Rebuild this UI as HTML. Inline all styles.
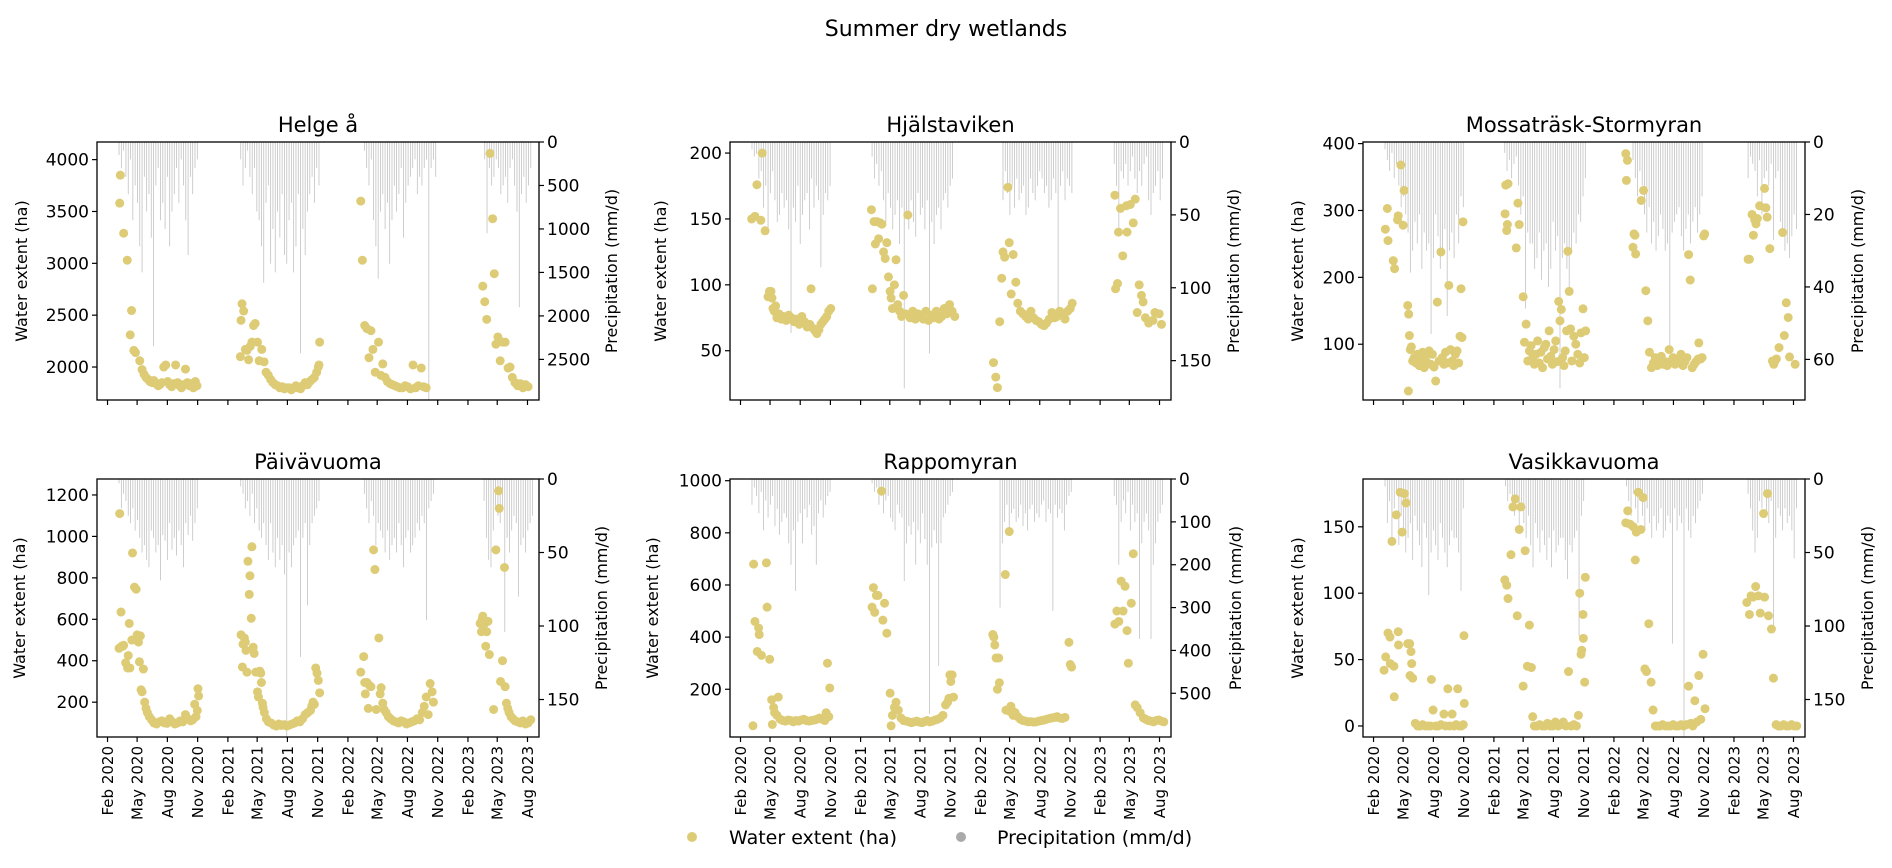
<!DOCTYPE html>
<html><head><meta charset="utf-8"><title>Summer dry wetlands</title>
<style>
html,body{margin:0;padding:0;background:#fff;}
svg{display:block;font-family:"DejaVu Sans","Liberation Sans",sans-serif;}
</style></head>
<body>
<svg id="chart" width="1892" height="868" viewBox="0 0 1892 868" xmlns="http://www.w3.org/2000/svg">
<text x="946" y="36" text-anchor="middle" font-size="22" fill="#000">Summer dry wetlands</text>
<g id="legend">
<g><circle cx="692" cy="837" r="5" fill="#ddcb76"/><text x="729" y="844" font-size="19" fill="#000">Water extent (ha)</text></g>
<g><circle cx="961" cy="837" r="5" fill="#aaaaaa"/><text x="997" y="844" font-size="19" fill="#000">Precipitation (mm/d)</text></g>
</g>
</svg>
<script>
// ---------- data ----------
const panelTitles = ["Helge å","Hjälstaviken","Mossaträsk-Stormyran","Päivävuoma","Rappomyran","Vasikkavuoma"];
const xTickDays = [31,121,213,305,397,486,578,670,762,851,943,1035,1127,1216,1308];
const xTickLabels = ["Feb 2020","May 2020","Aug 2020","Nov 2020","Feb 2021","May 2021","Aug 2021","Nov 2021","Feb 2022","May 2022","Aug 2022","Nov 2022","Feb 2023","May 2023","Aug 2023"];
const xDomain = [-1,1343];
const waterDomains = [[1682,4170],[12.6,208.4],[16.6,402.4],[32,1277],[16.9,1006.5],[-8.3,186]];
const precipDomains = [[0,2967],[0,177],[0,71.2],[0,175.5],[0,602],[0,175.5]];
const waterTicks = [[2000,2500,3000,3500,4000],[50,100,150,200],[100,200,300,400],[200,400,600,800,1000,1200],[200,400,600,800,1000],[0,50,100,150]];
const precipTicks = [[0,500,1000,1500,2000,2500],[0,50,100,150],[0,20,40,60],[0,50,100,150],[0,100,200,300,400,500],[0,50,100,150]];
const precipStepDays = 7;

// Helge å
const helgeWaterDays = [68,70,80,91,100,104,111,116,129,136,142,148,155,160,166,172,178,185,190,196,202,208,214,220,226,232,238,244,250,256,262,268,274,280,286,292,298,303,
435,437,440,445,450,455,460,465,470,475,480,487,492,500,507,513,520,527,534,541,548,555,562,569,576,583,590,597,604,611,618,625,632,639,646,653,660,667,672,674,676,
801,806,813,820,826,832,838,845,855,862,868,875,882,890,897,905,912,920,928,936,944,952,960,968,976,985,992,1000,
1172,1178,1184,1194,1202,1207,1212,1218,1225,1233,1240,1249,1255,1262,1270,1278,1286,1294,1302,1310];
const helgeWaterVals = [3580,3850,3290,3030,2310,2545,2160,2140,2060,1975,1930,1900,1880,1860,1850,1870,1840,1820,1830,1850,2000,2020,1860,1830,1810,1840,2020,1850,1820,1800,1830,1980,1850,1820,1840,1800,1860,1820,
2100,2450,2610,2540,2170,2160,2070,2200,2240,2400,2420,2240,2060,2170,2050,1950,1920,1880,1850,1830,1820,1800,1810,1790,1800,1800,1780,1800,1820,1800,1790,1820,1850,1830,1860,1880,1900,1950,2000,2020,2240,
3600,3030,2400,2370,2090,2350,2170,1950,2240,1920,2030,1900,1860,1840,1830,1820,1810,1800,1800,1820,1810,1790,2020,1800,1820,1990,1810,1800,
2780,2630,2460,4060,3430,2900,2220,2290,2060,2240,2240,1990,2000,1900,1850,1820,1840,1800,1830,1810];
const helgePrecipStarts = [66,436,812,1178];
const helgePrecipVals = [
[150,300,100,400,600,200,900,500,700,1200,1500,400,800,600,1100,2350,500,300,900,700,1000,400,1200,800,600,300,700,200,500,900,1300,400,600,300,200],
[200,500,300,100,400,600,300,800,900,1200,1620,700,500,1400,1000,1500,800,1100,600,1300,1400,900,700,1500,1200,600,2430,1000,1300,800,600,400,700,300,500],
[100,300,500,200,900,1200,1570,800,600,1000,700,1400,900,500,800,600,300,1100,700,500,400,300,200,600,400,500,300,200,2967,300,200,400],
[200,1050,300,500,400,200,300,600,500,400,700,300,200,500,800,1900,600,400,700,500,300]];

// Hjälstaviken
const hjalWaterDays = [65,75,81,93,97,106,115,119,124,127,130,134,138,142,148,155,162,170,178,186,194,202,210,218,226,234,242,246,252,258,264,270,276,282,288,294,300,306,
430,433,438,442,447,452,457,462,467,472,477,482,487,490,494,500,505,510,516,522,528,534,541,548,556,564,572,580,588,596,604,612,620,628,636,644,652,660,668,676,684,
802,809,814,821,827,831,836,846,850,856,862,870,876,884,892,900,908,916,924,932,940,948,956,964,972,980,988,996,1004,1012,1020,1028,1036,1042,
1172,1174,1180,1183,1189,1196,1207,1209,1219,1228,1234,1240,1246,1253,1258,1265,1275,1288,1294,1307,1314];
const hjalWaterVals = [150,152,176,149,200,141,91,95,95,90,82,80,84,75,78,74,76,73,77,75,72,74,70,76,72,68,70,97,67,65,63,66,70,72,74,76,80,82,
157,97,148,131,148,135,147,146,125,120,132,106,95,90,82,100,119,85,80,76,92,78,153,75,80,74,78,76,74,80,73,77,75,80,74,76,82,78,85,80,76,
41,30,22,72,105,125,121,174,132,93,123,102,86,80,78,76,74,80,75,73,72,70,69,71,74,79,75,76,80,78,74,80,82,86,
168,97,101,140,158,122,160,140,161,147,165,79,100,92,87,75,71,73,79,78,70];
const hjalPrecipStarts = [66,432,831,1170];
const hjalPrecipVals = [
[5,10,8,25,20,45,30,60,35,20,40,55,50,35,45,40,60,131,45,55,30,70,50,40,35,60,25,45,30,40,86,50,35,40,30],
[10,25,15,30,20,40,55,35,45,60,50,40,70,45,169,50,60,40,55,65,35,50,45,60,40,145,55,70,50,45,60,40,35,45,30,25],
[40,20,35,50,30,45,25,40,35,30,50,45,25,35,40,30,20,25,35,30,45,40,25,35,114,30,20,40,25,30,35],
[15,30,61,20,25,15,30,20,10,25,35,20,30,15,10,40,50,35,30,20,40,25]];

// Mossaträsk-Stormyran
const mossWaterDays = [67,73,75,91,95,104,106,114,121,124,135,137,138,140,143,146,150,155,160,165,170,175,180,185,190,195,200,205,210,215,220,225,230,236,240,245,250,255,260,265,270,275,280,285,290,294,297,300,303,
431,433,436,438,440,465,470,474,486,490,495,500,505,510,515,520,525,530,535,540,545,550,555,560,565,570,575,580,585,590,594,598,602,606,610,614,618,622,626,630,634,640,646,652,658,662,668,672,676,
798,800,803,820,823,826,828,845,852,859,865,870,876,882,888,894,900,906,912,918,924,930,936,942,948,954,960,966,972,978,984,989,994,1000,1006,1012,1018,1020,1026,1030,1035,1038,
1170,1174,1182,1186,1190,1194,1198,1205,1220,1224,1228,1236,1244,1248,1252,1256,1264,1275,1280,1286,1292,1296,1313];
const mossWaterVals = [272,303,255,225,213,286,292,368,278,330,158,30,145,113,92,96,75,80,72,85,68,78,88,65,82,72,90,70,85,66,45,163,75,238,80,70,88,72,188,92,75,68,85,90,72,112,183,110,283,
295,338,270,279,340,244,311,279,171,103,130,75,90,98,80,70,85,105,72,88,65,95,100,78,120,82,70,92,105,74,164,135,152,80,68,90,120,239,179,123,75,112,100,85,72,117,153,80,120,
385,345,375,245,265,263,235,315,330,180,135,88,65,72,80,68,76,82,70,74,68,92,75,80,70,72,78,85,68,74,80,234,196,65,70,74,78,102,78,80,262,265,
227,227,294,263,286,280,288,307,333,304,290,243,75,70,75,78,95,267,113,162,140,81,70];
const mossPrecipStarts = [66,430,820,1170];
const mossPrecipVals = [
[2,5,8,3,10,6,12,18,15,20,25,36,30,22,28,20,35,25,30,28,53,32,20,26,35,30,24,48,30,25,32,20,28,15,18],
[3,8,5,10,6,4,12,20,15,46,25,28,28,35,32,25,38,30,28,40,35,22,30,26,68,32,28,35,40,30,25,28,20,22,15,10],
[5,10,15,8,12,20,25,18,28,22,30,26,20,24,30,28,57,25,22,20,18,26,30,24,20,28,22,18,25,20,15],
[10,4,6,8,15,5,20,10,8,12,6,27,10,8,22,25,30,28,32,26,20,24]];

// Päivävuoma
const paivaWaterDays = [66,68,72,74,78,80,86,92,94,97,99,105,107,113,118,121,125,128,131,133,136,140,144,148,152,158,165,172,180,188,196,204,212,220,228,236,244,252,260,268,276,284,290,296,300,304,306,308,
437,441,443,447,450,452,455,458,462,464,468,470,474,477,482,487,490,494,497,499,502,504,508,514,520,528,536,544,552,560,568,576,584,592,600,608,616,624,632,640,648,652,656,660,664,668,672,676,
801,810,813,815,820,824,828,832,840,844,848,856,860,863,868,872,878,885,892,900,908,916,924,932,940,948,956,964,972,980,988,994,1000,1006,1012,1018,1022,
1164,1168,1170,1172,1176,1181,1184,1188,1192,1205,1212,1220,1222,1226,1232,1238,1240,1244,1248,1252,1258,1264,1270,1278,1286,1294,1302,1310,1318];
const paivaWaterVals = [460,1110,635,470,470,475,390,365,425,580,365,500,920,755,745,525,490,395,520,260,250,360,200,170,150,130,115,100,95,105,110,100,98,120,105,95,100,110,105,140,120,110,115,190,130,160,265,230,
525,370,480,510,490,450,345,880,720,810,605,950,465,435,345,250,225,350,340,295,195,175,150,120,105,100,90,85,95,88,92,85,90,95,100,110,105,120,140,150,160,180,200,190,365,340,305,245,
345,420,295,240,295,170,280,275,935,840,165,510,240,270,195,165,150,130,120,110,105,100,110,105,95,100,105,110,120,115,150,180,225,140,290,250,200,
580,540,600,615,575,470,540,590,430,165,935,1220,1135,300,400,850,275,195,170,150,130,120,110,105,100,110,95,100,115];
const paivaPrecipStarts = [66,436,812,1176];
const paivaPrecipVals = [
[3,20,10,15,25,30,20,35,28,40,50,45,55,60,35,40,50,45,69,38,42,55,30,48,40,52,35,45,60,30,38,25,42,30,20],
[5,10,20,15,25,10,30,20,35,40,30,45,55,30,50,60,40,55,45,65,175,50,60,45,40,35,121,40,30,86,45,30,25,20,15],
[10,20,30,15,25,45,30,35,40,50,35,55,45,40,50,30,45,60,40,35,50,45,40,30,35,25,30,96,20,15,10],
[15,40,55,60,35,20,25,30,20,104,40,50,35,25,30,80,45,40,50,35,30,25]];

// Rappomyran
const rappoWaterDays = [69,71,75,82,86,88,95,110,112,120,126,128,132,135,142,146,152,160,168,176,184,192,200,208,216,224,232,240,248,256,264,272,280,288,292,296,300,303,
432,436,440,445,450,461,465,470,477,487,490,494,500,505,512,520,528,536,544,552,560,568,576,584,592,600,608,616,624,632,640,648,656,662,666,669,672,676,680,
800,803,806,810,814,818,820,838,840,850,852,855,858,862,868,876,884,892,900,908,916,924,932,940,948,956,964,972,980,988,996,1004,1012,1020,1032,1036,1040,
1172,1178,1184,1191,1197,1203,1209,1213,1222,1228,1234,1240,1249,1259,1266,1274,1282,1290,1298,1306,1314,1321];
const rappoWaterVals = [60,680,460,345,435,410,330,685,515,315,160,65,130,110,100,170,85,80,78,82,80,75,80,78,82,85,80,78,80,82,85,90,85,80,110,300,95,205,
515,590,495,560,560,960,465,530,415,185,60,100,130,150,120,90,80,78,75,72,75,78,74,72,76,80,75,78,82,85,90,100,140,150,165,255,230,255,170,
410,400,370,320,200,320,225,640,120,805,115,135,120,100,110,95,85,80,78,75,76,74,75,78,80,82,85,88,90,92,95,90,88,92,380,295,285,
450,500,460,615,500,595,425,300,530,720,140,130,110,90,85,80,78,75,80,82,78,75];
const rappoPrecipStarts = [66,432,822,1170];
const rappoPrecipVals = [
[60,20,40,80,30,120,50,90,60,40,110,70,130,100,80,90,150,200,120,261,100,80,150,70,90,60,130,110,200,80,50,90,60,40,30],
[10,30,20,60,40,80,50,40,90,100,120,60,80,90,238,150,110,130,100,200,120,150,80,140,200,548,160,120,150,436,150,90,80,60,40,30],
[300,150,100,60,120,80,70,100,90,60,110,80,120,70,60,100,80,90,60,50,100,70,80,308,60,90,70,80,120,60,40,30],
[40,60,200,100,50,80,30,120,60,100,80,373,150,100,80,120,373,200,150,100,80,60]];

// Vasikkavuoma
const vasiWaterDays = [63,68,75,81,82,87,93,94,100,106,107,112,118,125,130,135,141,142,145,147,150,158,165,172,180,188,196,204,207,212,220,228,236,245,250,257,262,270,276,282,287,292,298,304,306,307,
430,436,440,449,455,462,468,474,479,486,492,499,505,511,515,520,528,536,544,552,560,568,576,584,592,600,608,616,624,632,640,648,654,658,662,664,668,669,673,675,
798,804,811,821,827,830,836,844,851,856,861,868,875,881,888,895,902,910,918,926,934,942,950,958,966,974,982,989,996,1002,1008,1014,1020,1026,1033,1039,
1166,1174,1179,1185,1193,1201,1207,1217,1220,1229,1232,1241,1247,1255,1262,1270,1278,1286,1294,1302,1310,1318];
const vasiWaterVals = [42,52,70,67,47,139,45,22,159,71,61,176,146,175,168,62,62,38,56,47,36,2,0,0,1,0,0,0,35,12,0,0,1,9,0,28,0,9,0,1,28,0,0,1,68,17,
110,106,96,129,165,171,83,148,165,30,132,45,76,44,7,0,0,1,0,0,2,0,0,3,0,1,3,0,41,0,1,0,8,100,54,57,84,66,33,112,
153,162,152,150,125,146,176,148,172,43,41,77,33,12,0,0,0,1,0,0,0,1,0,0,1,0,1,30,2,0,19,3,38,5,54,13,
93,84,98,97,105,98,85,160,97,175,83,73,36,1,0,0,1,0,0,1,0,0];
const vasiPrecipStarts = [66,432,800,1170];
const vasiPrecipVals = [
[5,30,15,40,20,10,45,25,35,50,40,30,55,25,35,45,60,30,40,79,50,35,45,55,30,40,50,60,45,35,40,40,50,76,20],
[5,15,10,20,25,15,35,20,30,40,25,45,60,30,40,50,35,45,55,40,60,35,50,45,40,40,55,68,45,50,40,35,107,25,15],
[5,15,25,10,20,30,15,25,35,20,30,40,25,35,30,20,40,35,25,30,112,20,35,25,30,175,20,35,40,25,30,20,15,10],
[10,20,35,50,40,15,20,10,25,30,15,102,40,20,25,35,20,30,25,35,54,20]];

const waterDays = [helgeWaterDays,hjalWaterDays,mossWaterDays,paivaWaterDays,rappoWaterDays,vasiWaterDays];
const waterVals = [helgeWaterVals,hjalWaterVals,mossWaterVals,paivaWaterVals,rappoWaterVals,vasiWaterVals];
const precipStarts = [helgePrecipStarts,hjalPrecipStarts,mossPrecipStarts,paivaPrecipStarts,rappoPrecipStarts,vasiPrecipStarts];
const precipVals = [helgePrecipVals,hjalPrecipVals,mossPrecipVals,paivaPrecipVals,rappoPrecipVals,vasiPrecipVals];

// ---------- layout (styling, not data) ----------
const boxes = [{l:97,t:142,w:442,h:258},{l:730,t:142,w:441,h:258},{l:1363,t:142,w:442,h:258},
               {l:97,t:479,w:442,h:258},{l:730,t:479,w:441,h:258},{l:1363,t:479,w:442,h:258}];
const leftLabelOff = [70,64,60,72,72,60];
const rightLabelOff = [72,62,52,62,64,62];
const NS = "http://www.w3.org/2000/svg";
const svg = document.getElementById("chart");
function mk(tag, attrs, parent){ const e=document.createElementNS(NS,tag); for(const k in attrs) e.setAttribute(k,attrs[k]); (parent||svg).appendChild(e); return e; }
const legend = document.getElementById("legend");

for(let p=0;p<6;p++){
  const b = boxes[p];
  const xs = d => b.l + (d - xDomain[0])/(xDomain[1]-xDomain[0])*b.w;
  const yw = v => b.t + b.h - (v - waterDomains[p][0])/(waterDomains[p][1]-waterDomains[p][0])*b.h;
  const yp = v => b.t + (v - precipDomains[p][0])/(precipDomains[p][1]-precipDomains[p][0])*b.h;
  const g = mk("g",{});
  
  
  const clipId = "clip"+p;
  const cp = mk("clipPath",{id:clipId},g); mk("rect",{x:b.l,y:b.t,width:b.w,height:b.h},cp);
  const pg = mk("g",{"clip-path":"url(#"+clipId+")"},g);
  
  
  precipStarts[p].forEach((s,si)=>{
    precipVals[p][si].forEach((v,i)=>{
      const x = xs(s + i*precipStepDays);
      const ln = mk("line",{x1:x,x2:x,y1:yp(0),y2:yp(v),stroke:"#c2c2c2","stroke-width":0.8},pg);
      
      
    });
  });
  const wg = mk("g",{"clip-path":"url(#"+clipId+")"},g);
  
  
  waterDays[p].forEach((d,i)=>{
    const c = mk("circle",{cx:xs(d),cy:yw(waterVals[p][i]),r:4.5,fill:"#ddcb76"},wg);
    
    
  });
  const fr = mk("rect",{x:b.l,y:b.t,width:b.w,height:b.h,fill:"none",stroke:"#000","stroke-width":1.3},g);
  
  
  const tt = mk("text",{x:b.l+b.w/2,y:b.t-10,"text-anchor":"middle","font-size":21,fill:"#000"},g);
  tt.textContent = panelTitles[p];
  
  
  waterTicks[p].forEach(v=>{
    const y = yw(v);
    mk("line",{x1:b.l-5,x2:b.l,y1:y,y2:y,stroke:"#000","stroke-width":1.2},g);
    const t = mk("text",{x:b.l-8,y:y+6,"text-anchor":"end","font-size":17,fill:"#000"},g);
    t.textContent = v;
    
    
  });
  precipTicks[p].forEach(v=>{
    const y = yp(v);
    mk("line",{x1:b.l+b.w,x2:b.l+b.w+5,y1:y,y2:y,stroke:"#000","stroke-width":1.2},g);
    const t = mk("text",{x:b.l+b.w+8,y:y+6,"text-anchor":"start","font-size":17,fill:"#000"},g);
    t.textContent = v;
    
    
  });
  const cy = b.t + b.h/2;
  const ll = mk("text",{x:0,y:0,"text-anchor":"middle","font-size":16,fill:"#000",transform:"translate("+(b.l-leftLabelOff[p])+","+cy+") rotate(-90)"},g);
  ll.textContent = "Water extent (ha)";
  
  
  const rl = mk("text",{x:0,y:0,"text-anchor":"middle","font-size":16,fill:"#000",transform:"translate("+(b.l+b.w+rightLabelOff[p]+6)+","+cy+") rotate(-90)"},g);
  rl.textContent = "Precipitation (mm/d)";
  
  
  xTickDays.forEach((d,i)=>{
    const x = xs(d), yb = b.t+b.h;
    mk("line",{x1:x,x2:x,y1:yb,y2:yb+5,stroke:"#000","stroke-width":1.2},g);
    if(p>=3){
      const t = mk("text",{x:0,y:0,"text-anchor":"end","font-size":15,fill:"#000",transform:"translate("+(x+5.5)+","+(yb+9)+") rotate(-90)"},g);
      t.textContent = xTickLabels[i];
      
      
    }
  });
}
svg.appendChild(legend);
</script>
</body></html>
